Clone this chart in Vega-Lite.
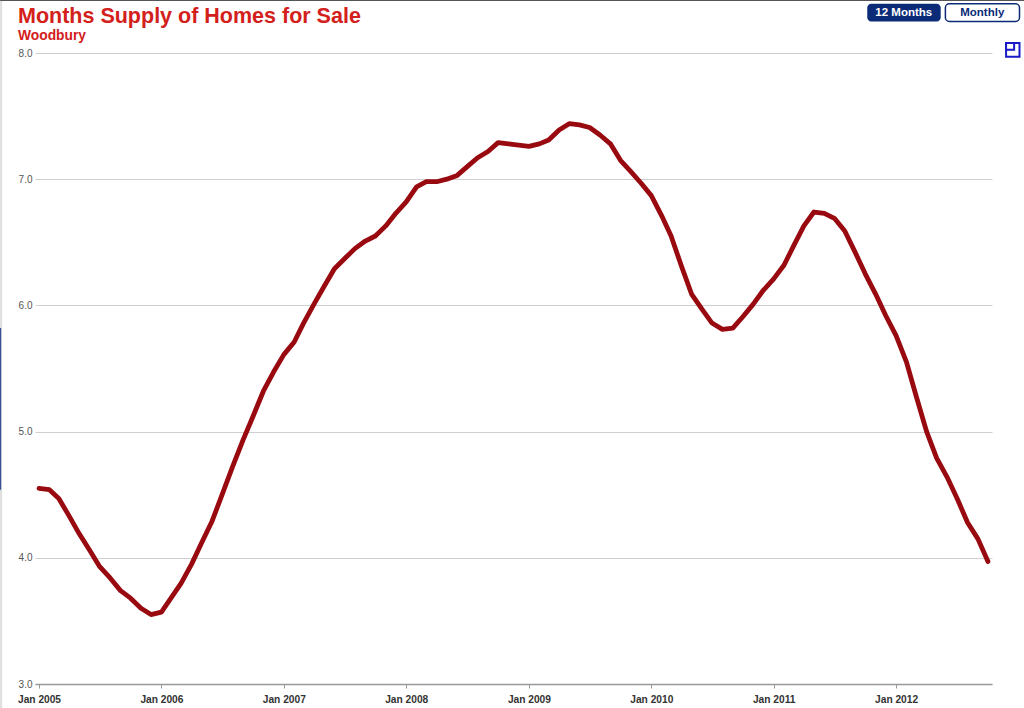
{"$schema":"https://vega.github.io/schema/vega-lite/v6.json","width":957,"height":631,"autosize":{"type":"none"},"padding":{"left":35,"top":53,"right":32,"bottom":24},"background":"white","config":{"view":{"stroke":null},"font":"Liberation Sans"},"title":{"text":"Months Supply of Homes for Sale","subtitle":"Woodbury","anchor":"start","frame":"group","dx":-17,"offset":-43,"font":"Liberation Sans","fontSize":21.5,"fontWeight":"bold","color":"#d3201b","subtitleFont":"Liberation Sans","subtitleFontSize":13.8,"subtitleFontWeight":"bold","subtitleColor":"#d3201b","subtitlePadding":2},"data":{"values":[{"month":"2005-01-01","supply":4.55},{"month":"2005-02-01","supply":4.54},{"month":"2005-03-01","supply":4.47},{"month":"2005-04-01","supply":4.33},{"month":"2005-05-01","supply":4.19},{"month":"2005-06-01","supply":4.06},{"month":"2005-07-01","supply":3.93},{"month":"2005-08-01","supply":3.84},{"month":"2005-09-01","supply":3.74},{"month":"2005-10-01","supply":3.68},{"month":"2005-11-01","supply":3.6},{"month":"2005-12-01","supply":3.55},{"month":"2006-01-01","supply":3.57},{"month":"2006-02-01","supply":3.69},{"month":"2006-03-01","supply":3.8},{"month":"2006-04-01","supply":3.95},{"month":"2006-05-01","supply":4.12},{"month":"2006-06-01","supply":4.29},{"month":"2006-07-01","supply":4.5},{"month":"2006-08-01","supply":4.72},{"month":"2006-09-01","supply":4.93},{"month":"2006-10-01","supply":5.12},{"month":"2006-11-01","supply":5.32},{"month":"2006-12-01","supply":5.47},{"month":"2007-01-01","supply":5.61},{"month":"2007-02-01","supply":5.71},{"month":"2007-03-01","supply":5.86},{"month":"2007-04-01","supply":6.01},{"month":"2007-05-01","supply":6.15},{"month":"2007-06-01","supply":6.29},{"month":"2007-07-01","supply":6.37},{"month":"2007-08-01","supply":6.45},{"month":"2007-09-01","supply":6.51},{"month":"2007-10-01","supply":6.55},{"month":"2007-11-01","supply":6.63},{"month":"2007-12-01","supply":6.73},{"month":"2008-01-01","supply":6.82},{"month":"2008-02-01","supply":6.94},{"month":"2008-03-01","supply":6.98},{"month":"2008-04-01","supply":6.98},{"month":"2008-05-01","supply":7.0},{"month":"2008-06-01","supply":7.03},{"month":"2008-07-01","supply":7.1},{"month":"2008-08-01","supply":7.17},{"month":"2008-09-01","supply":7.22},{"month":"2008-10-01","supply":7.29},{"month":"2008-11-01","supply":7.28},{"month":"2008-12-01","supply":7.27},{"month":"2009-01-01","supply":7.26},{"month":"2009-02-01","supply":7.28},{"month":"2009-03-01","supply":7.31},{"month":"2009-04-01","supply":7.39},{"month":"2009-05-01","supply":7.44},{"month":"2009-06-01","supply":7.43},{"month":"2009-07-01","supply":7.41},{"month":"2009-08-01","supply":7.35},{"month":"2009-09-01","supply":7.28},{"month":"2009-10-01","supply":7.15},{"month":"2009-11-01","supply":7.06},{"month":"2009-12-01","supply":6.97},{"month":"2010-01-01","supply":6.87},{"month":"2010-02-01","supply":6.71},{"month":"2010-03-01","supply":6.55},{"month":"2010-04-01","supply":6.31},{"month":"2010-05-01","supply":6.09},{"month":"2010-06-01","supply":5.97},{"month":"2010-07-01","supply":5.86},{"month":"2010-08-01","supply":5.81},{"month":"2010-09-01","supply":5.82},{"month":"2010-10-01","supply":5.91},{"month":"2010-11-01","supply":6.01},{"month":"2010-12-01","supply":6.12},{"month":"2011-01-01","supply":6.21},{"month":"2011-02-01","supply":6.32},{"month":"2011-03-01","supply":6.47},{"month":"2011-04-01","supply":6.63},{"month":"2011-05-01","supply":6.74},{"month":"2011-06-01","supply":6.73},{"month":"2011-07-01","supply":6.69},{"month":"2011-08-01","supply":6.59},{"month":"2011-09-01","supply":6.42},{"month":"2011-10-01","supply":6.25},{"month":"2011-11-01","supply":6.09},{"month":"2011-12-01","supply":5.92},{"month":"2012-01-01","supply":5.76},{"month":"2012-02-01","supply":5.55},{"month":"2012-03-01","supply":5.28},{"month":"2012-04-01","supply":5.0},{"month":"2012-05-01","supply":4.79},{"month":"2012-06-01","supply":4.64},{"month":"2012-07-01","supply":4.47},{"month":"2012-08-01","supply":4.28},{"month":"2012-09-01","supply":4.15},{"month":"2012-10-01","supply":3.97}]},"layer":[{"mark":{"type":"line","color":"#980a10","strokeWidth":4.8,"strokeJoin":"round","strokeCap":"round","interpolate":"linear","clip":false},"encoding":{"x":{"field":"month","type":"temporal","title":null,"scale":{"domain":[{"year":2004,"month":12,"date":20},{"year":2012,"month":10,"date":13}]},"axis":{"format":"%b %Y","tickCount":{"interval":"year","step":1},"grid":false,"domainColor":"#999999","domainWidth":1.5,"tickColor":"#999999","tickSize":4,"labelFont":"Liberation Sans","labelFontSize":10.2,"labelFontWeight":"bold","labelColor":"#333333","labelPadding":6,"labelOverlap":false}},"y":{"field":"supply","type":"quantitative","title":null,"scale":{"domain":[3,8],"nice":false,"zero":false},"axis":{"values":[3,4,5,6,7,8],"format":".1f","domain":false,"ticks":false,"grid":true,"gridColor":"#cfcfcf","gridWidth":1,"labelFont":"Liberation Sans","labelFontSize":10,"labelColor":"#555555","labelPadding":3}}}},{"data":{"values":[{"button":"12 Months"}]},"mark":{"type":"rect","color":"#0b2a78","cornerRadius":4,"clip":false},"encoding":{"x":{"datum":{"year":2011,"month":10,"date":7},"type":"temporal"},"x2":{"datum":{"year":2012,"month":5,"date":13}},"y":{"datum":8.39,"type":"quantitative"},"y2":{"datum":8.25}}},{"data":{"values":[{"button":"Monthly"}]},"mark":{"type":"rect","fill":"white","stroke":"#0b2a78","strokeWidth":1.5,"cornerRadius":4,"clip":false},"encoding":{"x":{"datum":{"year":2012,"month":5,"date":27},"type":"temporal"},"x2":{"datum":{"year":2013,"month":1,"date":3}},"y":{"datum":8.39,"type":"quantitative"},"y2":{"datum":8.25}}},{"data":{"values":[{"button":"12 Months"}]},"mark":{"type":"text","color":"white","fontWeight":"bold","fontSize":11.5,"font":"Liberation Sans","clip":false},"encoding":{"text":{"field":"button"},"x":{"datum":{"year":2012,"month":1,"date":24},"type":"temporal"},"y":{"datum":8.32,"type":"quantitative"}}},{"data":{"values":[{"button":"Monthly"}]},"mark":{"type":"text","color":"#0b2a78","fontWeight":"bold","fontSize":11.5,"font":"Liberation Sans","clip":false},"encoding":{"text":{"field":"button"},"x":{"datum":{"year":2012,"month":9,"date":14},"type":"temporal"},"y":{"datum":8.32,"type":"quantitative"}}},{"data":{"values":[{"icon":"expand"}]},"mark":{"type":"rect","fill":"white","stroke":"#1a1ac8","strokeWidth":2,"clip":false},"encoding":{"x":{"datum":{"year":2012,"month":11,"date":24},"type":"temporal"},"x2":{"datum":{"year":2013,"month":1,"date":3}},"y":{"datum":8.08,"type":"quantitative"},"y2":{"datum":7.97}}},{"data":{"values":[{"icon":"expand"}]},"mark":{"type":"rect","fill":"white","stroke":"#1a1ac8","strokeWidth":2,"clip":false},"encoding":{"x":{"datum":{"year":2012,"month":11,"date":24},"type":"temporal"},"x2":{"datum":{"year":2012,"month":12,"date":18}},"y":{"datum":8.08,"type":"quantitative"},"y2":{"datum":8.025}}},{"data":{"values":[{"edge":"left"}]},"mark":{"type":"rect","color":"#dddddd","clip":false},"encoding":{"x":{"datum":{"year":2004,"month":9,"date":7},"type":"temporal"},"x2":{"datum":{"year":2004,"month":9,"date":13}},"y":{"datum":8.42,"type":"quantitative"},"y2":{"datum":2.81}}},{"data":{"values":[{"edge":"top"}]},"mark":{"type":"rect","color":"#555555","clip":false},"encoding":{"x":{"datum":{"year":2004,"month":9,"date":7},"type":"temporal"},"x2":{"datum":{"year":2013,"month":1,"date":25}},"y":{"datum":8.42,"type":"quantitative"},"y2":{"datum":8.413}}},{"data":{"values":[{"edge":"blue"}]},"mark":{"type":"rect","color":"#1f3a8a","clip":false},"encoding":{"x":{"datum":{"year":2004,"month":9,"date":7},"type":"temporal"},"x2":{"datum":{"year":2004,"month":9,"date":10}},"y":{"datum":5.82,"type":"quantitative"},"y2":{"datum":4.54}}}]}
